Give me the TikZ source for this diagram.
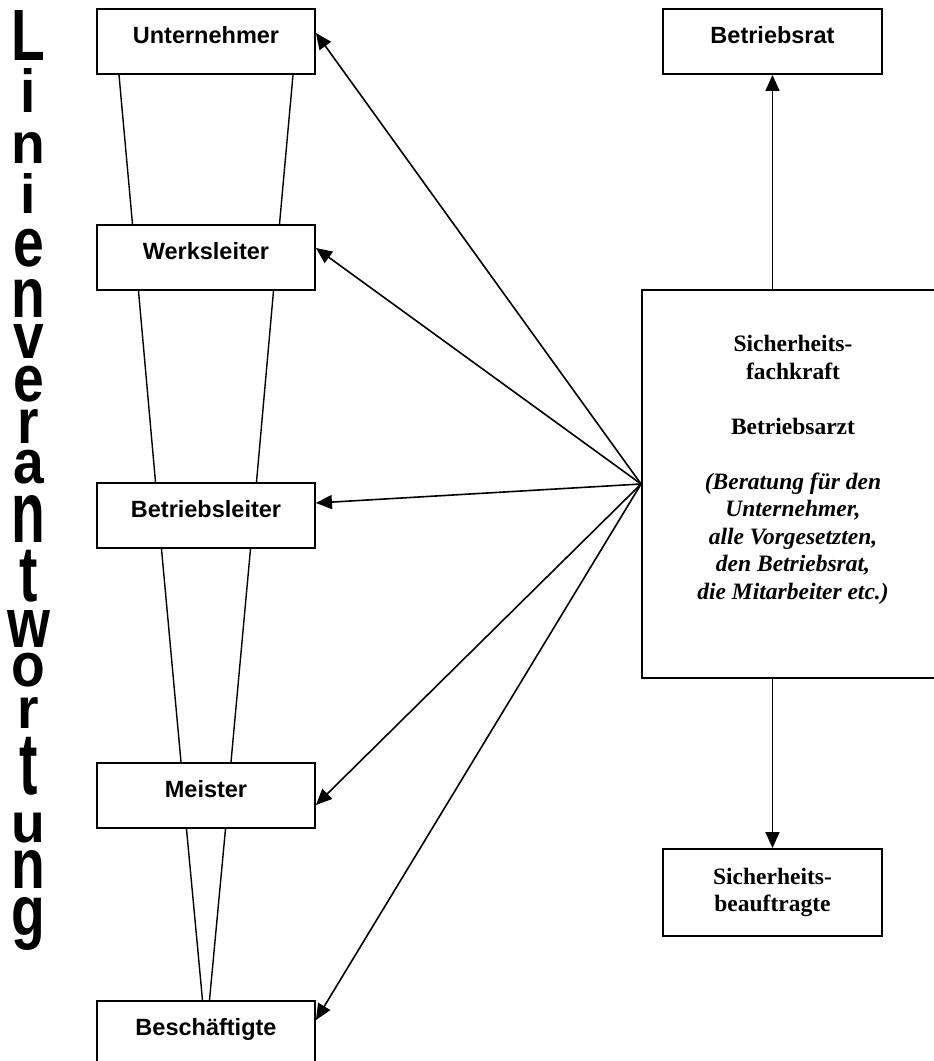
\documentclass[tikz,border=0pt]{standalone}
\usepackage{fontspec}
\setmainfont{Liberation Serif}
\setsansfont{Liberation Sans}
\usetikzlibrary{arrows.meta}

\tikzset{
  linebox/.style={draw, line width=1.9pt, fill=white, inner sep=0pt,
    minimum width=218pt, text height=34pt, text depth=31pt,
    font=\sffamily\bfseries\fontsize{23.5}{27.5}\selectfont},
  stabbox/.style={draw, line width=1.9pt, fill=white, inner sep=0pt},
  stabtext/.style={inner sep=0pt, align=flush center,
    font=\rmfamily\bfseries\fontsize{23.5}{27.5}\selectfont},
  letter/.style={inner sep=0pt, anchor=north,
    font=\sffamily\bfseries\fontsize{60}{60}\selectfont},
  zweig/.style={line width=1.4pt},
  pfeil/.style={line width=1.6pt, -{Triangle[length=16pt,width=14pt]}},
}

\begin{document}
\begin{tikzpicture}[x=1pt,y=1pt]

\useasboundingbox (0,0) rectangle (934,-1061);

% Vertical word on the left
\foreach \ch/\yt/\yb [count=\i] in {L/10/60, i/68/112, n/132/163, i/173/213,
    e/229/267, n/279/317, v/324/358, e/366/402, r/409/443, a/450/484,
    n/495/542, t/550/602, w/610/647, o/653/687, r/697/728, t/737/795,
    u/813/843, n/850/888, g/897/950}{
  \pgfmathsetmacro\hh{\yb-\yt}
  \node[letter] (lv\i) at (28.5,-\yt) {\resizebox*{0.92\width}{\hh pt}{\ch}};
}

% Line of command
\node[linebox] (unt) at (206,-41.5) {Unternehmer};
\node[linebox] (werk) at (206,-257.5) {Werksleiter};
\node[linebox] (betr) at (206,-515.5) {Betriebsleiter};
\node[linebox] (meis) at (206,-795.5) {Meister};
\node[linebox] (besch) at (206,-1033.5) {Beschäftigte};

% Narrowing band between the levels
\foreach \a/\b/\da/\db in {unt/werk/87/73.5, werk/betr/67.5/50.5,
    betr/meis/44.5/25, meis/besch/19.5/3.5}{
  \draw[zweig] ([xshift=-\da pt]\a.south) -- ([xshift=-\db pt]\b.north);
  \draw[zweig] ([xshift=\da pt]\a.south) -- ([xshift=\db pt]\b.north);
}

% Staff positions
\node[linebox, minimum width=219pt] (rat) at (772.5,-41.5) {Betriebsrat};
\node[stabbox, minimum width=302pt, minimum height=388pt] (sifa) at (793,-484) {};
\node[stabtext, text width=300pt, anchor=north] (sifatext)
  at ([yshift=-46pt]sifa.north)
  {Sicherheits-\\fachkraft\\[27.5pt]Betriebsarzt\\[27.5pt]
   \itshape(Beratung für den\\Unternehmer,\\alle Vorgesetzten,\\
   den Betriebsrat,\\die Mitarbeiter etc.)};
\node[stabbox, stabtext, minimum width=219pt, minimum height=87pt] (beauf)
  at (772.5,-892.5) {Sicherheits-\\beauftragte};

% Arrows up and down
\draw[pfeil] (sifa.north -| rat.south) -- (rat.south);
\draw[pfeil] (sifa.south -| beauf.north) -- (beauf.north);

% Advice to every level
\draw[pfeil] (sifa.west) -- ([yshift=8.5pt]unt.east);
\draw[pfeil] (sifa.west) -- ([yshift=9.5pt]werk.east);
\draw[pfeil] (sifa.west) -- ([yshift=12.5pt]betr.east);
\draw[pfeil] (sifa.west) -- ([yshift=-9.5pt]meis.east);
\draw[pfeil] (sifa.west) -- ([yshift=13.5pt]besch.east);

\end{tikzpicture}
\end{document}
